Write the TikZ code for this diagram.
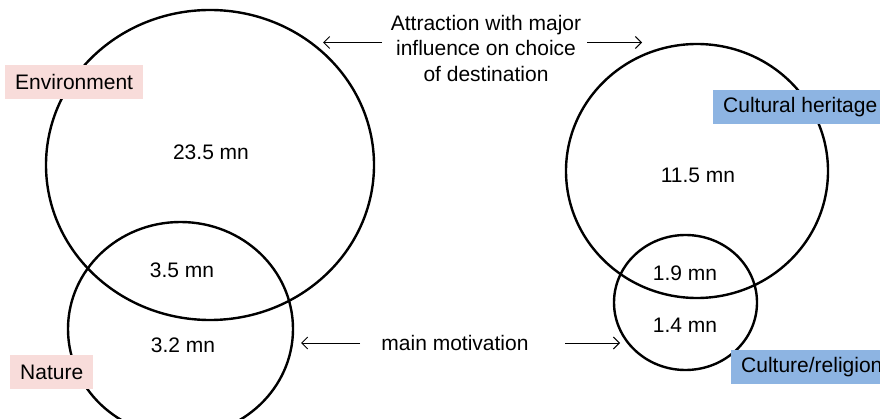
\documentclass[tikz,border=0pt]{standalone}
\usepackage{fontspec}
\setmainfont{Liberation Sans}
\usetikzlibrary{shapes.geometric,arrows.meta}
\definecolor{pinkbox}{HTML}{F8DCDA}
\definecolor{bluebox}{HTML}{8DB4E2}
\begin{document}
\begin{tikzpicture}[x=1pt,y=-1pt,
  every node/.style={font=\fontsize{21}{25.5}\selectfont},
  venn/.style={draw=black,line width=2.4pt,ellipse,inner sep=0pt,outer sep=0pt},
  tag/.style={inner xsep=10pt,inner ysep=0pt,minimum height=34pt,anchor=west},
  pinktag/.style={tag,fill=pinkbox},
  bluetag/.style={tag,fill=bluebox},
  arr/.style={draw=black,line width=1pt,-{Straight Barb[length=6pt,width=12pt,line width=1pt]}}
]
\useasboundingbox (0,0) rectangle (880,419);
\clip (0,0) rectangle (880,419);
% circles
\node[venn,minimum width=328pt,minimum height=310pt] (env) at (210,165) {};
\node[venn,minimum width=225pt,minimum height=214pt] (nat) at (180.5,329) {};
\node[venn,minimum width=262pt,minimum height=254pt] (cult) at (697,171) {};
\node[venn,minimum width=143pt,minimum height=135pt] (rel) at (685.5,302.5) {};
% numbers
\node (n1) at (211,152) {23.5 mn};
\node (n2) at (182,270) {3.5 mn};
\node (n3) at (183,345) {3.2 mn};
\node (n4) at (698,175) {11.5 mn};
\node (n5) at (685,273) {1.9 mn};
\node (n6) at (685,325) {1.4 mn};
% labels
\node[pinktag] (lenv) at (5,82) {Environment};
\node[pinktag] (lnat) at (10,372) {Nature};
\node[bluetag] (lcult) at (713,107) {Cultural heritage};
\node[bluetag] (lrel) at (731,367) {Culture/religion};
% captions and arrows
\node[align=center] (attr) at (486,48) {Attraction with major\\influence on choice\\of destination};
\node (mot) at (455,343) {main motivation};
\coordinate (a1s) at (382,42.5);
\coordinate (a1e) at (323,42.5);
\coordinate (a2s) at (587,42.5);
\coordinate (a2e) at (642,42.5);
\coordinate (m1s) at (360,343);
\coordinate (m1e) at (301,343);
\coordinate (m2s) at (565,343);
\coordinate (m2e) at (620,343);
\draw[arr] (a1s) -- (a1e);
\draw[arr] (a2s) -- (a2e);
\draw[arr] (m1s) -- (m1e);
\draw[arr] (m2s) -- (m2e);
\end{tikzpicture}
\end{document}
